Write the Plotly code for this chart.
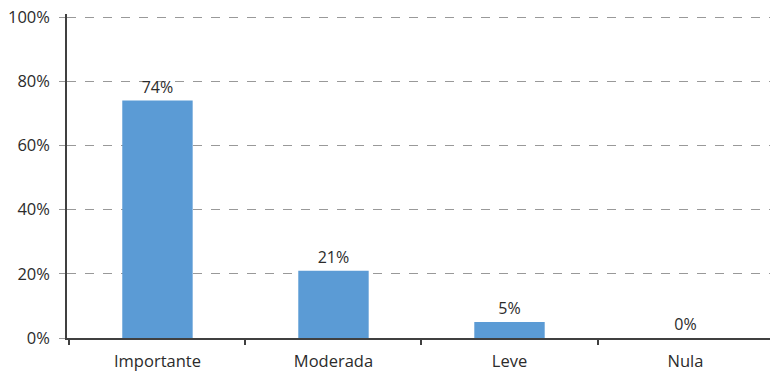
import plotly.graph_objects as go

categories = ["Importante", "Moderada", "Leve", "Nula"]
values = [74, 21, 5, 0]
y_ticks = [0, 20, 40, 60, 80, 100]
y_tick_labels = ["0%", "20%", "40%", "60%", "80%", "100%"]

fig = go.Figure()
fig.add_trace(go.Bar(
    x=categories,
    y=values,
    width=0.40,
    marker=dict(color="#5B9BD5", line=dict(width=0)),
    text=[f"{v}%" for v in values],
    textposition="outside",
    cliponaxis=False,
    textfont=dict(family="Open Sans, sans-serif", size=16, color="#2b2b2b"),
))

fig.update_layout(
    width=770, height=372,
    margin=dict(l=67, r=0, t=14, b=34),
    paper_bgcolor="white", plot_bgcolor="white",
    showlegend=False,
    font=dict(family="Open Sans, sans-serif", size=16, color="#2b2b2b"),
    uniformtext=dict(mode=False),
)
fig.update_xaxes(
    type="category",
    range=[-0.514, 3.48],
    showline=True, linecolor="#404040", linewidth=1.5,
    ticks="outside", tickson="boundaries", ticklen=5, tickcolor="#404040", tickwidth=1.5,
    showgrid=False,
    ticklabelstandoff=7,
    tickfont=dict(size=16.5, color="#2b2b2b"),
)
fig.update_yaxes(
    range=[0, 101],
    tickvals=y_ticks, ticktext=y_tick_labels,
    showline=True, linecolor="#404040", linewidth=1.5,
    ticks="outside", ticklen=6, tickcolor="#999999", tickwidth=1,
    showgrid=True, gridcolor="#999999", gridwidth=1, griddash="dash",
    zeroline=False,
    ticklabelstandoff=6,
    tickfont=dict(size=16.5, color="#2b2b2b"),
)
fig.write_html("out.html")
